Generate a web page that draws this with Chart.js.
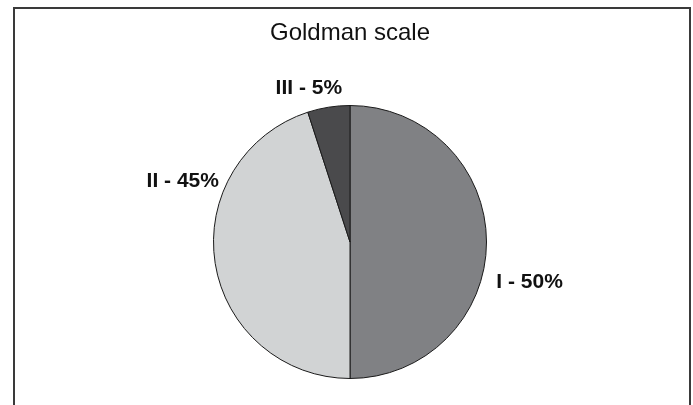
<!DOCTYPE html>
<html>
<head>
<meta charset="utf-8">
<script src="https://cdn.jsdelivr.net/npm/chart.js@4.4.0/dist/chart.umd.min.js"></script>
<style>
  html, body { margin: 0; padding: 0; background: #fff; }
  #wrap { position: relative; width: 693px; height: 405px; overflow: hidden; }
  #frame {
    position: absolute; left: 13px; top: 7px; width: 674px; height: 410px;
    border: 2px solid #3a3a3a; border-bottom: none;
  }
  canvas { position: absolute; left: 0; top: 0; }
</style>
</head>
<body>
<div id="wrap">
  <div id="frame"></div>
  <canvas id="pie" width="693" height="405"></canvas>
</div>
<script>
// data
const chartTitle = 'Goldman scale';
const categories = ['I', 'II', 'III'];
const shares = [50, 45, 5];
const sliceColors = ['#808184', '#d1d3d4', '#4a4a4c'];

// where each label sits: angle (deg, canvas coords) and distance from centre
const labelPlacement = [
  { angle: 12.5, dist: 184 },
  { angle: -160, dist: 178 },
  { angle: -105, dist: 159 }
];

const labelPlugin = {
  id: 'sliceLabels',
  afterDatasetsDraw(chart) {
    const c = chart.ctx;
    const meta = chart.getDatasetMeta(0);
    c.save();
    c.fillStyle = '#111';
    c.font = 'bold 21px "Liberation Sans", Arial, sans-serif';
    c.textAlign = 'center';
    c.textBaseline = 'middle';
    meta.data.forEach((arc, i) => {
      const p = labelPlacement[i];
      const a = p.angle * Math.PI / 180;
      const x = arc.x + Math.cos(a) * p.dist;
      const y = arc.y + Math.sin(a) * p.dist;
      c.fillText(categories[i] + ' - ' + shares[i] + '%', x, y);
    });
    // title
    c.font = '24px "Liberation Sans", Arial, sans-serif';
    c.fillText(chartTitle, (chart.chartArea.left + chart.chartArea.right) / 2, 33);
    c.restore();
  }
};

new Chart(document.getElementById('pie').getContext('2d'), {
  type: 'pie',
  data: {
    labels: categories,
    datasets: [{
      data: shares,
      backgroundColor: sliceColors,
      borderColor: '#1a1a1a',
      borderWidth: 1
    }]
  },
  options: {
    responsive: false,
    animation: false,
    layout: { padding: { left: 213, right: 206, top: 105, bottom: 26 } },
    plugins: {
      legend: { display: false },
      title: { display: false },
      tooltip: { enabled: false }
    }
  },
  plugins: [labelPlugin]
});
</script>
</body>
</html>
